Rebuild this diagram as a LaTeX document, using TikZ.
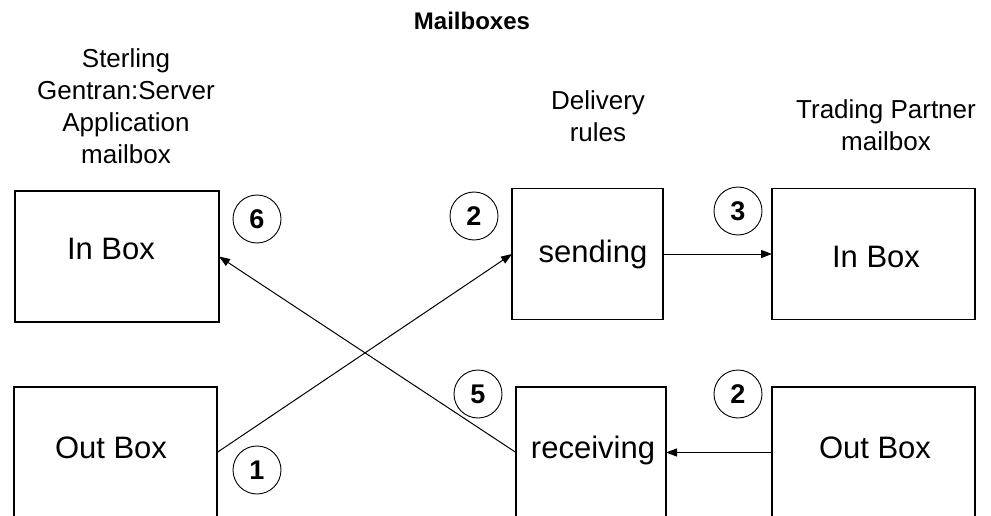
\documentclass[tikz,border=0pt]{standalone}
\usepackage{fontspec}
\setmainfont{Liberation Sans}
\usetikzlibrary{arrows.meta}
\begin{document}
\begin{tikzpicture}[x=1pt,y=-1pt,
  mbox/.style={draw=black, line width=1.2pt, minimum height=131pt, inner sep=0pt, outer sep=0pt},
  boxtext/.style={anchor=base, inner sep=0pt, font=\fontsize{31}{37}\selectfont},
  lbl/.style={anchor=base, inner sep=0pt, align=center, font=\fontsize{26}{32}\selectfont},
  ttl/.style={anchor=base, inner sep=0pt, font=\fontsize{24}{28}\selectfont\bfseries},
  num/.style={circle, draw=black, line width=0.9pt, minimum size=48pt, inner sep=0pt, font=\fontsize{27}{30}\selectfont\bfseries},
  conn/.style={draw=black, line width=1pt, -{Triangle[length=11pt,width=8pt]}}
]
\fill[white] (0,0) rectangle (991,516);
\useasboundingbox (0,0) rectangle (991,516);
\clip (0,0) rectangle (991,516);

% title and column labels (base = baseline of the last line)
\node[ttl] (title) at (472,30) {Mailboxes};
\node[lbl] (lblL) at (126,164) {Sterling\\Gentran:Server\\Application\\mailbox};
\node[lbl] (lblM) at (598,142) {Delivery\\rules};
\node[lbl] (lblR) at (886,150) {Trading Partner\\mailbox};

% boxes
\node[mbox, minimum width=204pt] (inL)  at (117,256.5) {};
\node[mbox, minimum width=203pt] (outL) at (115.5,452.5) {};
\node[mbox, minimum width=151pt] (send) at (587.5,254) {};
\node[mbox, minimum width=150pt] (recv) at (591,452.5) {};
\node[mbox, minimum width=203pt] (inR)  at (873.5,254) {};
\node[mbox, minimum width=203pt] (outR) at (873.5,452.5) {};

% box texts
\node[boxtext] (inLt)  at (111,259) {In Box};
\node[boxtext] (outLt) at (111,458) {Out Box};
\node[boxtext] (sendt) at (593,262) {sending};
\node[boxtext] (recvt) at (593,458) {receiving};
\node[boxtext] (inRt)  at (876,267) {In Box};
\node[boxtext] (outRt) at (875,458) {Out Box};

% step numbers
\node[num] (n6)  at (257,219) {6};
\node[num] (n2a) at (474,216) {2};
\node[num] (n3)  at (738,211) {3};
\node[num] (n1)  at (257,470) {1};
\node[num] (n5)  at (478,394) {5};
\node[num] (n2b) at (738,394) {2};

% connectors
\draw[conn] (outL.east) -- (send.west);
\draw[conn] (send.east) -- (inR.west);
\draw[conn] (outR.west) -- (recv.east);
\draw[conn] (recv.west) -- (inL.east);
\end{tikzpicture}
\end{document}
